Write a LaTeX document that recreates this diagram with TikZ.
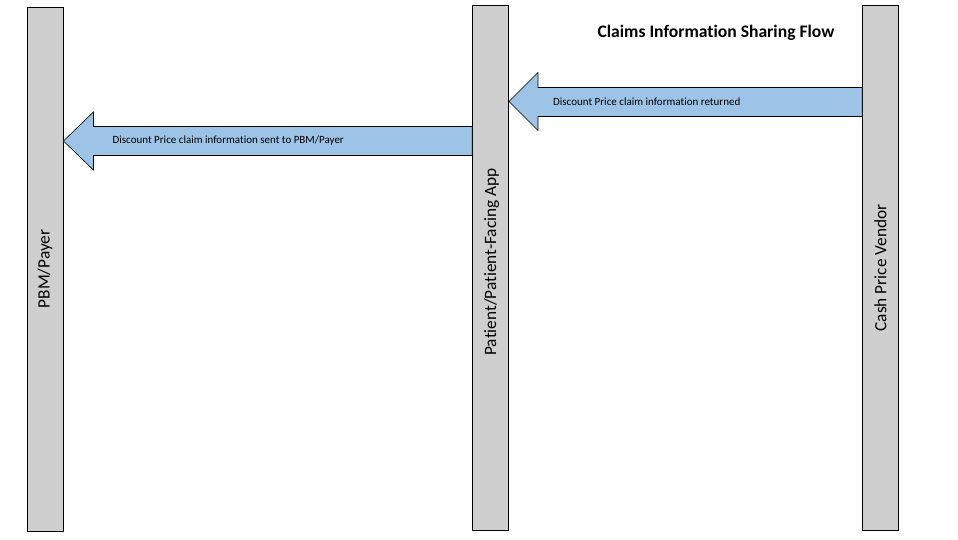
\documentclass[tikz,border=0pt]{standalone}
\usepackage{fontspec}
\setmainfont{Carlito}[Ligatures=CommonOff]
\usepackage{tikz}
\usetikzlibrary{calc}

\begin{document}
\begin{tikzpicture}[x=1pt,y=-1pt]
            \tikzset{lane/.style={draw=black, line width=0.9pt, fill=gray!38, minimum width=36pt, inner sep=0pt}}
            \tikzset{lanelabel/.style={rotate=90, font=\fontsize{17.3}{19}\selectfont}}
            \tikzset{flow/.style={draw=black, line width=0.6pt, fill=blueflow}}
            \tikzset{flowlabel/.style={anchor=west, inner sep=0pt, font=\fontsize{11}{12}\selectfont}}
            % \tikzset{flow/.append style={very thick}}
            \definecolor{blueflow}{RGB}{157,195,230}
            \useasboundingbox (0,0) rectangle (958,540);
            % the three lanes
            \node[lane, minimum height=524pt] (pbm) at (45,269) {};
            \node[lane, minimum height=525pt] (app) at (490.5,268) {};
            \node[lane, minimum height=525pt] (vendor) at (880.5,268) {};
            \node[lanelabel] (pbmlabel) at (pbm) {PBM/Payer};
            \node[lanelabel] (applabel) at ($(app)+(1,-6)$) {Patient/Patient-Facing App};
            \node[lanelabel] (vendorlabel) at (vendor) {Cash Price Vendor};
            % title
            \node[font=\bfseries\fontsize{17.6}{19}\selectfont] (title) at (716,32.5) {Claims Information Sharing Flow};
            % vendor -> app
            \coordinate (returned) at (app.east |- 0,101.5);
            \draw[flow] (returned) -- ++(29,-29) |- (vendor.west |- 0,87.5)
                -- (vendor.west |- 0,116.5) -| ($(returned)+(29,29)$) -- cycle;
            \node[flowlabel] (returnedlabel) at ($(returned)+(44,0)$) {Discount Price claim information returned};
            % app -> pbm
            \coordinate (sent) at (pbm.east |- 0,141);
            \draw[flow] (sent) -- ++(30,-29) |- (app.west |- 0,126.5)
                -- (app.west |- 0,155.5) -| ($(sent)+(30,29)$) -- cycle;
            \node[flowlabel] (sentlabel) at ($(sent)+(49,0)$) {Discount Price claim information sent to PBM/Payer};
\end{tikzpicture}
\end{document}
